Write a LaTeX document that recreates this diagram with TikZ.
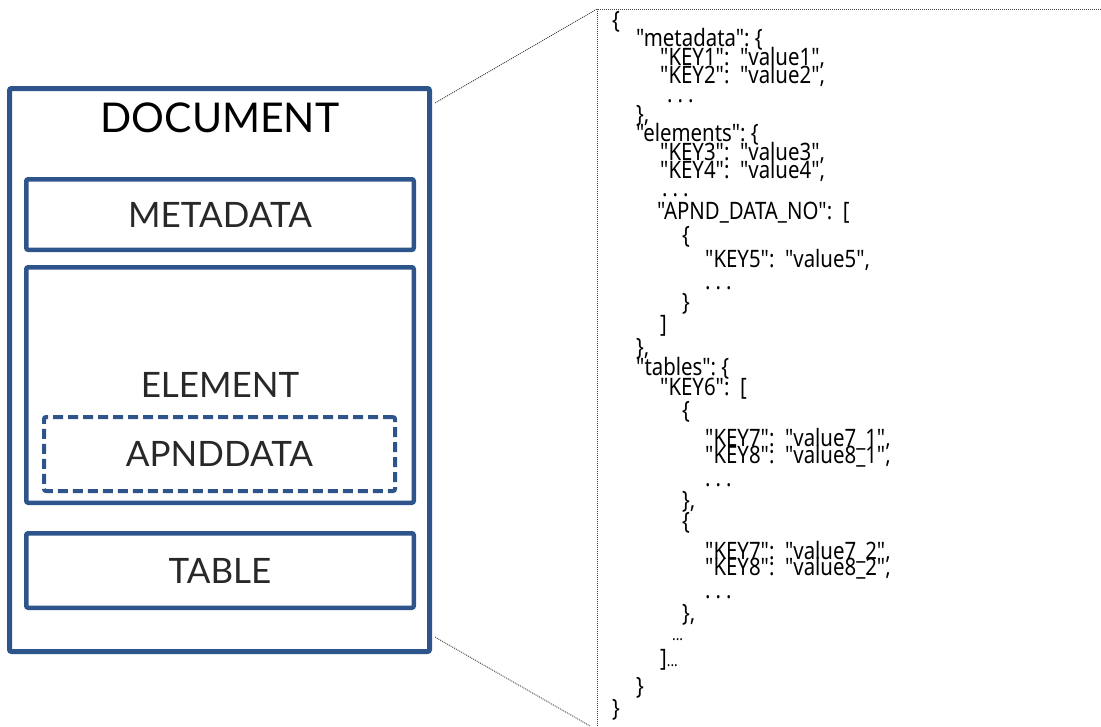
\documentclass[tikz,border=0pt]{standalone}
\usepackage{fontspec}
\usepackage{xcolor}
\usetikzlibrary{positioning}
\newfontfamily\boxfont{Lato}
\newfontfamily\jsonfont[FakeStretch=0.85]{Noto Sans}
\newcommand{\jdots}{.\kern5pt.\kern5pt.}
\definecolor{docBlue}{RGB}{46,84,140}
\definecolor{docText}{RGB}{40,40,40}
\tikzstyle{outer} = [draw=docBlue, line width=5pt, rounded corners=2pt, minimum width=420pt, minimum height=563pt, inner sep=0pt]
\tikzstyle{block} = [draw=docBlue, line width=4.5pt, rounded corners=2pt, minimum width=387.5pt, inner sep=0pt, font=\boxfont\fontsize{35}{38}\selectfont, text=docText]
\tikzstyle{dblock} = [block, dash pattern=on 10pt off 5pt, line width=4pt, minimum width=351pt, minimum height=74pt]
\tikzstyle{jsonline} = [anchor=base west, inner sep=0pt, font=\jsonfont\fontsize{24}{26}\selectfont]
\tikzstyle{zoomline} = [draw=black!75, dash pattern=on 1pt off 1pt, line width=0.9pt]

\begin{document}
\begin{tikzpicture}[x=1pt, y=-1pt]
        \useasboundingbox (0,0) rectangle (1101,726);
        % The document and its parts
        \node [outer] (doc) at (219.5,370) {};
        \node [font=\boxfont\fontsize{41}{44}\selectfont, inner sep=0pt] (docTitle) at (220,118) {DOCUMENT};
        \node [block, minimum height=70.5pt] (meta) at (220,214.5) {METADATA};
        \node [block, minimum height=235.5pt, below of=meta, node distance=170.5pt] (elem) {ELEMENT};
        \node [dblock] (apnd) at (219.5,454) {APNDDATA};
        \node [block, minimum height=74.5pt, below of=elem, node distance=185.5pt] (table) {TABLE};

        % The JSON text, one node per line
        \node [jsonline] (l1) at (612,28) {\{};
        \node [jsonline] (l2) at (636,46) {"metadata":~\{};
        \node [jsonline] (l3) at (660,65) {"KEY1":~~"value1",};
        \node [jsonline] (l4) at (660,83) {"KEY2":~~"value2",};
        \node [jsonline] (l5) at (667,102) {\jdots};
        \node [jsonline] (l6) at (636,122) {\},};
        \node [jsonline] (l7) at (636,141) {"elements":~\{};
        \node [jsonline] (l8) at (660,160) {"KEY3":~~"value3",};
        \node [jsonline] (l9) at (660,178) {"KEY4":~~"value4",};
        \node [jsonline] (l10) at (662,196) {\jdots};
        \node [jsonline] (l11) at (657,219) {"APND\_DATA\_NO":~~[};
        \node [jsonline] (l12) at (682,243) {\{};
        \node [jsonline] (l13) at (705,267) {"KEY5":~~"value5",};
        \node [jsonline] (l14) at (705,289) {\jdots};
        \node [jsonline] (l15) at (682,310) {\}};
        \node [jsonline] (l16) at (660,332) {]};
        \node [jsonline] (l17) at (636,355) {\},};
        \node [jsonline] (l18) at (636,375) {"tables":~\{};
        \node [jsonline] (l19) at (660,395) {"KEY6":~~[};
        \node [jsonline] (l20) at (682,418) {\{};
        \node [jsonline] (l21) at (705,446) {"KEY7":~~"value7\_1",};
        \node [jsonline] (l22) at (705,463) {"KEY8":~~"value8\_1",};
        \node [jsonline] (l23) at (705,486) {\jdots};
        \node [jsonline] (l24) at (682,508) {\},};
        \node [jsonline] (l25) at (682,529) {\{};
        \node [jsonline] (l26) at (705,559) {"KEY7":~~"value7\_2",};
        \node [jsonline] (l27) at (705,575) {"KEY8":~~"value8\_2",};
        \node [jsonline] (l28) at (705,598) {\jdots};
        \node [jsonline] (l29) at (682,621) {\},};
        \node [jsonline, font=\jsonfont\fontsize{16}{18}\selectfont] (l30) at (672,640) {...};
        \node [jsonline] (l31) at (660,666) {]\fontsize{16}{18}\selectfont...};
        \node [jsonline] (l32) at (636,694) {\}};
        \node [jsonline] (l33) at (612,716) {\}};

        % Zoom frame and the lines leading to it
        \coordinate (frameTL) at (597,9);
        \coordinate (frameTR) at (1101,9);
        \coordinate (frameBL) at (597,726);
        \coordinate (docNE) at (435,103);
        \coordinate (docSE) at (435,637);
        \coordinate (zoomEnd) at (590,726);
        \draw [zoomline] (frameBL) -- (frameTL) -- (frameTR);
        \draw [zoomline] (docNE) -- (frameTL);
        \draw [zoomline] (docSE) -- (zoomEnd);
    \end{tikzpicture}
\end{document}
